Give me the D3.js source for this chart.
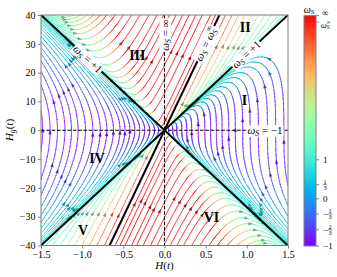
<!DOCTYPE html>
<html>
<head>
<meta charset="utf-8">
<script src="https://cdn.jsdelivr.net/npm/d3@7"></script>
<style>
  body { margin: 0; background: #fff; }
  text { font-family: "Liberation Serif", "DejaVu Serif", serif; }
</style>
</head>
<body>
<svg width="337" height="277"></svg>
<script>
// ---- values ----
const hTicks = [-1.5, -1.0, -0.5, 0.0, 0.5, 1.0, 1.5];
const hgTicks = [-40, -30, -20, -10, 0, 10, 20, 30, 40];
const slopeOne = 40 / 1.5;   // H_g/H on the two w_S = +1 lines
const slopeInf = 60;         // H_g/H on the w_S = w_S^inf line

// where the streamlines cross a reference line
const seedsI = [0.05, 0.10, 0.15, 0.21, 0.27, 0.33, 0.41, 0.49, 0.56, 0.63, 0.70, 0.78, 0.86, 0.95, 1.04, 1.14, 1.25, 1.35, 1.45]; // H at H_g = 0
const seedsIV = [-1.48, -1.39, -1.30, -1.21, -1.13, -1.05, -0.96, -0.87, -0.78, -0.70, -0.62, -0.54, -0.48, -0.42, -0.36, -0.30, -0.24, -0.18, -0.12, -0.07]; // H at H_g = 0
const seedsII = [0.74, 0.82, 0.90, 0.98, 1.06, 1.14, 1.22, 1.30, 1.38, 1.45];   // H at H_g = 40
const seedsIII = [0.62, 0.56, 0.46, 0.38, 0.30, 0.22, 0.14, 0.06, -0.01, -0.09, -0.19, -0.30, -0.40, -0.50, -0.60, -0.70, -0.78, -0.86, -0.94, -1.02, -1.10]; // H at H_g = 40
const seedsV = [-1.44, -1.36, -1.27, -1.18, -1.09, -1.00, -0.91, -0.82, -0.73]; // H at H_g = -40
const seedsVI = [-0.60, -0.54, -0.48, -0.40, -0.34, -0.26, -0.17, -0.09, -0.01, 0.07, 0.15, 0.23, 0.33, 0.43, 0.54, 0.64, 0.76, 0.88, 1.00, 1.10]; // H at H_g = -40

const regionNames = ['I', 'II', 'III', 'IV', 'V', 'VI'];
const regionH = [0.97, 0.98, -0.33, -0.82, -0.99, 0.57];
const regionHg = [10.4, 35.8, 26.0, -9.9, -34.7, -30.3];

const cbValues = [-1, -2 / 3, -1 / 3, 0, 1 / 3, 1];
const cbLabels = ['−1', '−2/3', '−1/3', '0', '1/3', '1'];

// ---- layout ----
const svg = d3.select('svg');
const x = d3.scaleLinear().domain([-1.5, 1.5]).range([41, 288]);
const y = d3.scaleLinear().domain([-40, 40]).range([245.5, 15]);
const cby = d3.scaleLinear().domain([0, 1]).range([246, 15.7]);
const frameColor = '#7f7f7f';

// ---- flow model, in units u = H/1.5, v = H_g/40 ----
const K = slopeInf / slopeOne;
const PHI_K = Math.atan(K);
const Q = Math.PI / 4, Q3 = 3 * Math.PI / 4;

function intA(s, m) { let t = 0; for (let j = 1; j <= m; j++) t += Math.pow(s, j) / j; return -t - Math.log(1 - s); }
function intB(s, m) { let t = 0; for (let j = 1; j <= m; j++) t += (j % 2 ? 1 : -1) * Math.pow(s, j) / j; return (m % 2 ? -1 : 1) * (Math.log(1 + s) - t); }

const lnI = s => -0.3 * intA(s, 2) - 0.45 * intB(s, 2);
const lnIV = s => 0.3 * intA(s, 1) + 0.55 * intB(s, 1);
const lnII = p => 0.25 * Math.log(p - Q) - Math.log(Math.sin(PHI_K - p));
const lnIII = p => -Math.log(Math.sin(p - PHI_K)) - 0.12 * Math.log(Q3 - p);
const polar = (r, p) => [r * Math.cos(p), r * Math.sin(p)];

const sectors = {
  I: { lo: -1, hi: 1, forward: true, at: (p, c) => { const u = c * Math.exp(lnI(p)); return [u, p * u]; } },
  IV: { lo: -1, hi: 1, forward: false, at: (p, c) => { const u = -c * Math.exp(lnIV(p)); return [u, p * u]; } },
  II: { lo: Q, hi: PHI_K, forward: true, at: (p, c) => polar(c * Math.exp(lnII(p)), p) },
  III: { lo: PHI_K, hi: Q3, forward: false, at: (p, c) => polar(c * Math.exp(lnIII(p)), p) }
};
const scaleII = (u, v) => Math.hypot(u, v) / Math.exp(lnII(Math.atan2(v, u)));
const scaleIII = (u, v) => Math.hypot(u, v) / Math.exp(lnIII(Math.atan2(v, u)));

function params(lo, hi) {
  const out = [], mid = (lo + hi) / 2, n = 400;
  for (let i = 0; i < n; i++) out.push(lo + (mid - lo) * Math.pow(10, -12 * (1 - i / n)));
  for (let i = 0; i <= 300; i++) out.push(lo + (hi - lo) * i / 300);
  for (let i = 0; i < n; i++) out.push(hi - (hi - mid) * Math.pow(10, -12 * (1 - i / n)));
  return out.filter(p => p > lo && p < hi).sort((a, b) => a - b);
}
function curve(sec, c) {
  const pts = params(sec.lo, sec.hi).map(p => sec.at(p, c))
    .filter(([u, v]) => isFinite(u) && isFinite(v) && Math.hypot(u, v) < 3);
  return sec.forward ? pts : pts.reverse();
}
const reflect = pts => pts.map(([u, v]) => [-u, -v]).reverse();

const curves = [];
seedsI.forEach(h => curves.push(curve(sectors.I, h / 1.5)));
seedsIV.forEach(h => curves.push(curve(sectors.IV, -h / 1.5)));
seedsII.forEach(h => curves.push(curve(sectors.II, scaleII(h / 1.5, 1))));
seedsIII.forEach(h => curves.push(curve(sectors.III, scaleIII(h / 1.5, 1))));
seedsV.forEach(h => curves.push(reflect(curve(sectors.II, scaleII(-h / 1.5, 1)))));
seedsVI.forEach(h => curves.push(reflect(curve(sectors.III, scaleIII(-h / 1.5, 1)))));

// ---- colour: w_S from the slope, then the colour bar mapping ----
const KP = 2.4;
function omega(s) {
  const a = s * s;
  if (a <= 1) return -1 + 2 * a;
  if (a >= KP * KP) return Infinity;
  return -1 + 2 * a * (KP * KP - 1) / (KP * KP - a);
}
const tOf = w => (w === Infinity ? 1 : 2 / Math.PI * Math.atan((w + 1) / 3));
const clamp = z => Math.max(0, Math.min(1, z));
function rainbow(t) {
  return d3.rgb(255 * clamp(Math.abs(2 * t - 0.5)), 255 * clamp(Math.sin(Math.PI * t)), 255 * clamp(Math.cos(Math.PI * t / 2))).formatHex();
}

// ---- clip ----
const defs = svg.append('defs');
defs.append('clipPath').attr('id', 'clip').append('rect')
  .attr('x', x(-1.5)).attr('y', y(40)).attr('width', x(1.5) - x(-1.5)).attr('height', y(-40) - y(40));
const grad = defs.append('linearGradient').attr('id', 'cbgrad')
  .attr('x1', 0).attr('y1', 1).attr('x2', 0).attr('y2', 0);
d3.range(0, 41).forEach(i => grad.append('stop').attr('offset', i / 40).attr('stop-color', rainbow(i / 40)));

const plot = svg.append('g').attr('clip-path', 'url(#clip)');
const lines = plot.append('g').attr('fill', 'none').attr('stroke-width', 0.9).attr('stroke-linecap', 'round');
const arrows = plot.append('g');

const inside = (px, py) => px >= x(-1.5) && px <= x(1.5) && py >= y(40) && py <= y(-40);
const near = (px, py) => px > x(-1.5) - 6 && px < x(1.5) + 6 && py > y(40) - 6 && py < y(-40) + 6;

curves.forEach(pts => {
  const P = pts.map(([u, v]) => ({ u, v, px: x(1.5 * u), py: y(40 * v) }));
  // runs close to the frame, thinned to ~0.6 px steps
  const runs = [];
  let cur = [];
  P.forEach((p, i) => {
    if (near(p.px, p.py)) {
      if (!cur.length && i > 0) cur.push(P[i - 1]);
      const last = cur[cur.length - 1];
      if (!last || Math.hypot(p.px - last.px, p.py - last.py) > 0.6) cur.push(p);
    } else if (cur.length) {
      cur.push(p); runs.push(cur); cur = [];
    }
  });
  if (cur.length > 1) runs.push(cur);

  runs.forEach(run => {
    let group = [run[0]], q = null;
    for (let i = 1; i < run.length; i++) {
      const a = run[i - 1], b = run[i];
      const mu = (a.u + b.u) / 2, mv = (a.v + b.v) / 2;
      const qi = Math.round(tOf(omega(mv / mu)) * 100);
      if (q !== null && qi !== q) {
        lines.append('path').attr('stroke', rainbow(q / 100)).attr('d', d3.line().x(d => d.px).y(d => d.py)(group));
        group = [a];
      }
      group.push(b); q = qi;
    }
    if (group.length > 1) lines.append('path').attr('stroke', rainbow(q / 100)).attr('d', d3.line().x(d => d.px).y(d => d.py)(group));
  });

  // arrows along the visible length
  const segs = [];
  runs.forEach(run => {
    for (let i = 1; i < run.length; i++) {
      const a = run[i - 1], b = run[i];
      if (inside(a.px, a.py) && inside(b.px, b.py)) segs.push([a, b, Math.hypot(b.px - a.px, b.py - a.py)]);
    }
  });
  const L = d3.sum(segs, s => s[2]);
  if (L < 15) return;
  const n = Math.max(1, Math.round(L / 85));
  for (let j = 0; j < n; j++) {
    let target = L * (j + 0.5) / n, acc = 0;
    for (const [a, b, l] of segs) {
      if (acc + l >= target) {
        const f = (target - acc) / l;
        const px = a.px + f * (b.px - a.px), py = a.py + f * (b.py - a.py);
        const ang = Math.atan2(b.py - a.py, b.px - a.px) * 180 / Math.PI;
        const col = d3.color(rainbow(tOf(omega(((a.v + b.v) / 2) / ((a.u + b.u) / 2))))).darker(1.3);
        arrows.append('path').attr('d', 'M2,0L-2.2,-1.7L-2.2,1.7Z')
          .attr('fill', col).attr('opacity', 0.85)
          .attr('transform', `translate(${px},${py}) rotate(${ang})`);
        break;
      }
      acc += l;
    }
  }
});

// ---- reference lines ----
const ref = plot.append('g');
ref.append('line').attr('x1', x(-1.5)).attr('x2', x(1.5)).attr('y1', y(0)).attr('y2', y(0))
  .attr('stroke', '#000').attr('stroke-width', 1).attr('stroke-dasharray', '3.7,1.6');
ref.append('line').attr('x1', x(0)).attr('x2', x(0)).attr('y1', y(40)).attr('y2', y(-40))
  .attr('stroke', '#000').attr('stroke-width', 1).attr('stroke-dasharray', '3.7,1.6');
[[slopeOne], [-slopeOne], [slopeInf]].forEach(([m]) => {
  const h = Math.min(1.5, 40 / Math.abs(m));
  ref.append('line').attr('x1', x(-h)).attr('y1', y(-m * h)).attr('x2', x(h)).attr('y2', y(m * h))
    .attr('stroke', '#000').attr('stroke-width', 2);
});

// ---- math labels ----
function mathText(g, parts, size) {
  const t = g.append('text').attr('font-size', size).attr('text-anchor', 'middle').attr('dominant-baseline', 'central');
  let shift = 0;
  parts.forEach(([str, kind]) => {
    const ts = t.append('tspan').text(str);
    let want = 0;
    if (kind === 'i') ts.attr('font-style', 'italic');
    if (kind === 'sub') { ts.attr('font-style', 'italic').attr('font-size', size * 0.7); want = size * 0.28; }
    if (kind === 'sup') { ts.attr('font-size', size * 0.7).attr('dx', -size * 0.38); want = -size * 0.38; }
    if (want !== shift) { ts.attr('dy', want - shift); shift = want; }
  });
  return t;
}
function lineLabel(hx, hy, angle, parts) {
  const g = svg.append('g').attr('transform', `translate(${x(hx)},${y(hy)}) rotate(${angle})`);
  const t = mathText(g, parts, 11);
  const b = t.node().getBBox();
  g.insert('rect', 'text').attr('x', b.x - 1).attr('y', b.y + 1).attr('width', b.width + 2).attr('height', b.height - 2).attr('fill', '#fff');
}
const pxAngle = m => Math.atan2(y(m) - y(0), x(1) - x(0)) * 180 / Math.PI;
const wS = [['ω', 'i'], ['S', 'sub']];
lineLabel(-0.93, slopeOne * 0.93, pxAngle(-slopeOne), wS.concat([[' = +1', '']]));
lineLabel(0.99, slopeOne * 0.99, pxAngle(slopeOne), wS.concat([[' = +1', '']]));
lineLabel(0.5, slopeInf * 0.5, pxAngle(slopeInf), wS.concat([[' = ', ''], ['ω', 'i'], ['S', 'sub'], ['∞', 'sup']]));
lineLabel(0, 33, -90, wS.concat([[' = ∞', '']]));
lineLabel(1.22, 0, 0, wS.concat([[' = −1', '']]));

// region labels
regionNames.forEach((name, i) => {
  svg.append('text').attr('x', x(regionH[i])).attr('y', y(regionHg[i]))
    .attr('text-anchor', 'middle').attr('dominant-baseline', 'central')
    .attr('font-size', 14).attr('font-weight', 'bold').text(name);
});

// ---- axes ----
svg.append('rect').attr('x', x(-1.5)).attr('y', y(40)).attr('width', x(1.5) - x(-1.5)).attr('height', y(-40) - y(40))
  .attr('fill', 'none').attr('stroke', frameColor).attr('stroke-width', 1);
const ax = svg.append('g').attr('transform', `translate(0,${y(-40)})`)
  .call(d3.axisBottom(x).tickValues(hTicks).tickFormat(d3.format('.1f')).tickSize(3).tickPadding(2.5));
const ay = svg.append('g').attr('transform', `translate(${x(-1.5)},0)`)
  .call(d3.axisLeft(y).tickValues(hgTicks).tickFormat(d3.format('d')).tickSize(3).tickPadding(2.5));
[ax, ay].forEach(a => {
  a.select('.domain').remove();
  a.selectAll('line').attr('stroke', frameColor);
  a.selectAll('text').attr('font-size', 10).attr('font-family', '"Liberation Serif", serif').attr('fill', '#000');
});

mathText(svg.append('g').attr('transform', `translate(${x(0)},265)`), [['H', 'i'], ['(', ''], ['t', 'i'], [')', '']], 11);
mathText(svg.append('g').attr('transform', 'translate(9,130) rotate(-90)'), [['H', 'i'], ['g', 'sub'], ['(', ''], ['t', 'i'], [')', '']], 11);

// ---- colour bar ----
const cbx0 = 304, cbx1 = 316;
svg.append('rect').attr('x', cbx0).attr('y', cby(1)).attr('width', cbx1 - cbx0).attr('height', cby(0) - cby(1))
  .attr('fill', 'url(#cbgrad)').attr('stroke', frameColor).attr('stroke-width', 1);
mathText(svg.append('g').attr('transform', 'translate(309,9)'), wS, 10);

function cbTick(t) {
  svg.append('line').attr('x1', cbx1).attr('x2', cbx1 + 3).attr('y1', cby(t)).attr('y2', cby(t)).attr('stroke', frameColor);
}
cbValues.forEach((w, i) => {
  const t = tOf(w), yy = cby(t), lab = cbLabels[i];
  cbTick(t);
  let x0 = 323;
  let body = lab;
  if (lab[0] === '−') {
    svg.append('text').attr('x', x0).attr('y', yy).attr('dy', '0.32em').attr('font-size', 9).text('−');
    x0 += 5.2; body = lab.slice(1);
  }
  if (body.includes('/')) {
    const [num, den] = body.split('/');
    const cx = x0 + 2;
    svg.append('text').attr('x', cx).attr('y', yy - 0.9).attr('text-anchor', 'middle').attr('font-size', 6.3).text(num);
    svg.append('line').attr('x1', cx - 2).attr('x2', cx + 2).attr('y1', yy).attr('y2', yy).attr('stroke', '#000').attr('stroke-width', 0.5);
    svg.append('text').attr('x', cx).attr('y', yy + 5.3).attr('text-anchor', 'middle').attr('font-size', 6.3).text(den);
  } else {
    svg.append('text').attr('x', x0).attr('y', yy).attr('dy', '0.32em').attr('font-size', 9).text(body);
  }
});
const tInf = tOf(omega(K));
cbTick(tInf);
cbTick(1);
svg.append('text').attr('x', 322).attr('y', 16.2).attr('font-size', 9).text('∞');
const wi = svg.append('text').attr('x', 321).attr('y', 27.8).attr('font-size', 8);
wi.append('tspan').attr('font-style', 'italic').text('ω');
wi.append('tspan').attr('font-style', 'italic').attr('font-size', 5.5).attr('dy', 1.5).text('S');
wi.append('tspan').attr('font-size', 5.5).attr('dx', -3).attr('dy', -5.6).text('∞');
</script>
</body>
</html>
